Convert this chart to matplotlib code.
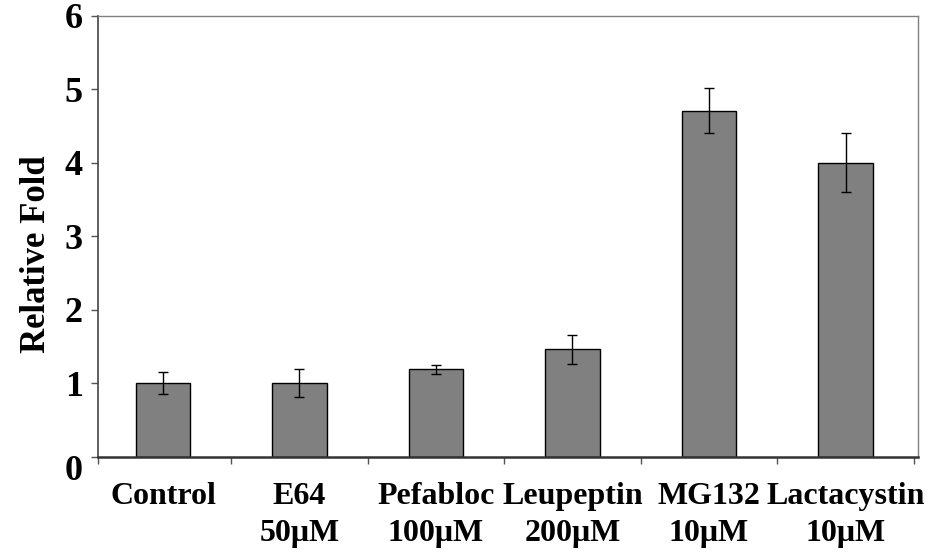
import matplotlib
matplotlib.use("Agg")
import matplotlib.pyplot as plt
import matplotlib.transforms as mtransforms

categories = ["Control", "E64\n50\u03bcM", "Pefabloc\n100\u03bcM", "Leupeptin\n200\u03bcM",
              "MG132\n10\u03bcM", "Lactacystin\n10\u03bcM"]
values = [1.0, 1.0, 1.19, 1.46, 4.71, 4.0]
errors = [0.15, 0.19, 0.06, 0.20, 0.30, 0.40]
yticks = [0, 1, 2, 3, 4, 5, 6]

plt.rcParams['font.family'] = ['Liberation Serif', 'DejaVu Serif']
plt.rcParams['font.weight'] = 'bold'

fig = plt.figure(figsize=(9.35, 5.56), dpi=100)
ax = fig.add_axes([98/935, 1-456.7/556, (918-98)/935, (456.7-15.7)/556])

x = list(range(len(categories)))
ax.bar(x, values, width=0.40, color='#808080', edgecolor='black', linewidth=1.0, zorder=2)
ax.errorbar(x, values, yerr=errors, fmt='none', ecolor='black', elinewidth=1.0,
            capsize=3.5, capthick=1.0, zorder=3)

x0, x1 = -0.476, 5.531
ax.set_xlim(x0, x1)
ax.set_ylim(0, 6)
ax.set_yticks(yticks)
ax.set_yticklabels([str(t) for t in yticks], fontsize=26, fontweight='bold')

ax.set_xticks([x0] + [i + 0.5 for i in range(6)])
ax.set_xticklabels([])
ax.set_xticks(x, minor=True)
ax.set_xticklabels(categories, minor=True, fontsize=23, fontweight='bold', linespacing=1.4)
ax.tick_params(axis='x', which='minor', length=0, pad=18)
ax.tick_params(axis='x', which='major', direction='out', length=5, width=1, color='#555555')
ax.tick_params(axis='y', direction='out', length=5, width=1, color='#555555', pad=6)

ax.set_ylabel("Relative Fold", fontsize=25, fontweight='bold', va='center')
ax.yaxis.set_label_coords(-0.0756, 0.4596)

for side in ['top', 'right']:
    ax.spines[side].set_color('#808080')
    ax.spines[side].set_linewidth(1.0)
ax.spines['left'].set_color('#444444')
ax.spines['left'].set_linewidth(1.2)
ax.spines['bottom'].set_color('#333333')
ax.spines['bottom'].set_linewidth(1.8)

# Shift the "0" label down as in the reference
lbl0 = ax.get_yticklabels()[0]
lbl0.set_transform(lbl0.get_transform() + mtransforms.ScaledTranslation(0, -8/72, fig.dpi_scale_trans))

fig.savefig("out.png", dpi=100)
